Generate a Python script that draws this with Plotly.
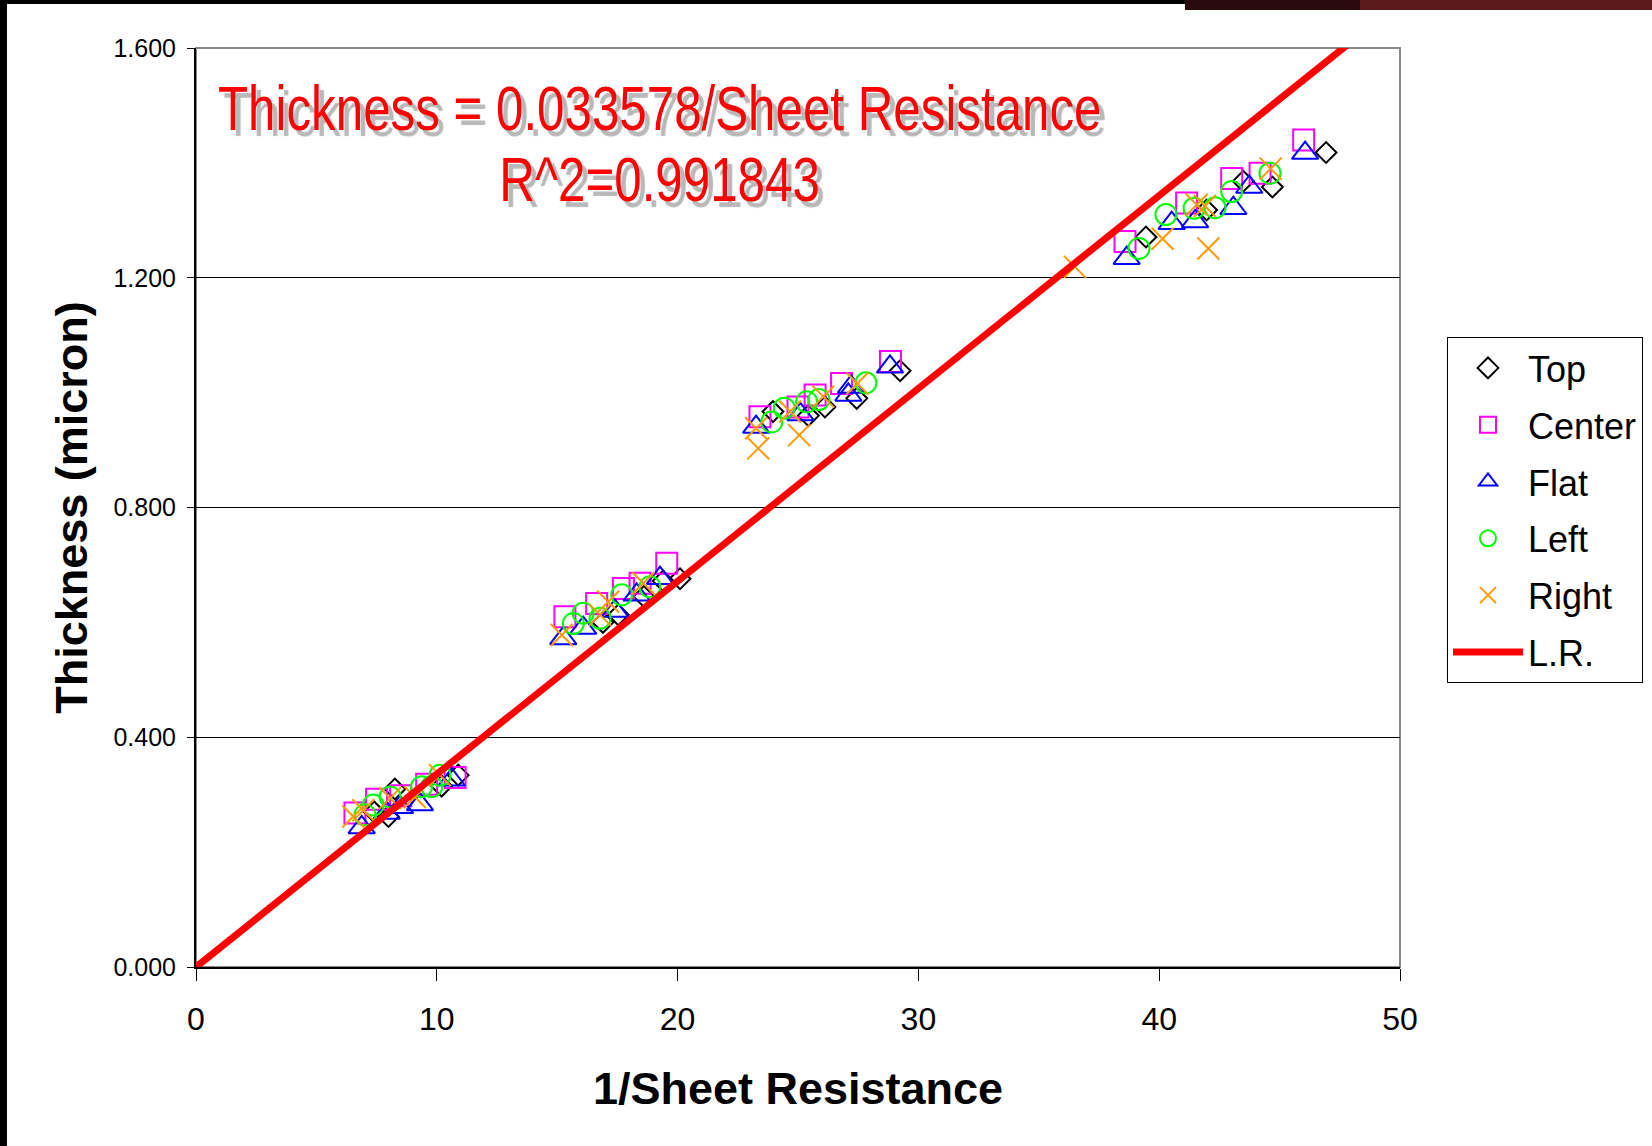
import plotly.graph_objects as go

# ---- data ----
top_x = [7.40, 7.99, 8.26, 10.20, 10.89, 16.90, 17.54, 18.60, 19.40, 20.10,
         23.96, 25.43, 26.12, 27.44, 29.24, 39.45, 41.97, 43.49, 44.70, 46.93]
top_y = [0.270, 0.262, 0.310, 0.315, 0.334, 0.600, 0.613, 0.645, 0.672, 0.676,
         0.967, 0.960, 0.975, 0.990, 1.038, 1.271, 1.318, 1.368, 1.358, 1.418]

center_x = [6.60, 7.50, 8.50, 9.58, 10.76, 15.32, 16.64, 17.75, 18.44, 19.55,
            23.42, 25.00, 25.71, 26.81, 28.84, 38.58, 41.14, 43.01, 44.19, 46.00]
center_y = [0.268, 0.292, 0.298, 0.318, 0.330, 0.610, 0.633, 0.659, 0.668, 0.703,
            0.958, 0.975, 0.996, 1.016, 1.054, 1.263, 1.330, 1.373, 1.382, 1.440]

flat_x = [6.88, 7.92, 8.47, 9.30, 10.62, 15.25, 16.08, 17.40, 18.30, 19.27,
          23.26, 25.10, 27.09, 27.20, 28.82, 38.65, 40.52, 41.49, 43.08, 43.74, 46.06]
flat_y = [0.243, 0.268, 0.278, 0.283, 0.326, 0.572, 0.590, 0.620, 0.648, 0.677,
          0.940, 0.962, 0.996, 1.010, 1.045, 1.234, 1.295, 1.298, 1.321, 1.358, 1.417]

left_x = [7.02, 7.36, 8.06, 9.37, 9.79, 10.13, 15.67, 16.08, 16.78, 17.68, 18.85,
          23.91, 24.43, 25.36, 25.87, 27.82, 39.16, 40.28, 41.45, 42.32, 43.01, 44.60]
left_y = [0.265, 0.282, 0.296, 0.314, 0.314, 0.334, 0.598, 0.616, 0.607, 0.648, 0.662,
          0.949, 0.973, 0.984, 0.988, 1.017, 1.251, 1.310, 1.321, 1.322, 1.350, 1.382]

right_x = [6.53, 6.95, 8.06, 9.09, 10.13, 15.19, 16.78, 17.12, 18.58,
           23.26, 23.35, 24.67, 25.05, 26.05, 27.46, 36.50, 40.14, 41.56, 41.90, 42.04, 44.63]
right_y = [0.262, 0.273, 0.294, 0.296, 0.334, 0.578, 0.613, 0.636, 0.668,
           0.938, 0.903, 0.967, 0.926, 0.993, 1.016, 1.219, 1.268, 1.327, 1.325, 1.251, 1.390]

lr_slope = 0.033578
lr_r2 = 0.991843
lr_x = [0, 50]
lr_y = [lr_slope * v for v in lr_x]

x_ticks = [0, 10, 20, 30, 40, 50]
y_ticks = [0.0, 0.4, 0.8, 1.2, 1.6]

# ---- layout geometry (pixels) ----
W, H = 1652, 1146
L, R, T, B = 196, 1400, 48, 967
pw, ph = R - L, B - T


def px(x):
    return (x - L) / pw


def py(y):
    return (B - y) / ph


FONT = "Liberation Sans, Arial, sans-serif"

fig = go.Figure()

series = [
    ("Top", top_x, top_y, "diamond-open", "#000000", 16),
    ("Center", center_x, center_y, "square-open", "#FF00FF", 21),
    ("Flat", flat_x, flat_y, "triangle-up-open", "#0000FF", 23),
    ("Left", left_x, left_y, "circle-open", "#00FF00", 21),
    ("Right", right_x, right_y, "x-thin-open", "#FF9900", 22),
]
for name, xs, ys, sym, col, sz in series:
    fig.add_trace(go.Scatter(
        x=xs, y=ys, mode="markers", name=name, legendgroup=name,
        marker=dict(symbol=sym, size=sz, color=col,
                    line=dict(color=col, width=2)),
    ))

fig.add_trace(go.Scatter(
    x=lr_x, y=lr_y, mode="lines", name="L.R.", legendgroup="L.R.",
    line=dict(color="#FF0000", width=7),
))

ann_font = dict(family=FONT, size=62, color="#FF0000",
                shadow="6px 5px 1px #b8b8b8")
fig.add_annotation(
    text=f"Thickness = {lr_slope:.6f}/Sheet Resistance",
    xref="paper", yref="paper", x=px(660), y=py(108),
    xanchor="center", yanchor="middle", showarrow=False, font=ann_font,
)
fig.add_annotation(
    text=f"R^2={lr_r2:.6f}",
    xref="paper", yref="paper", x=px(659), y=py(179),
    xanchor="center", yanchor="middle", showarrow=False, font=ann_font,
)

shapes = [
    # plot frame (grey, Excel style)
    dict(type="rect", xref="paper", yref="paper", x0=0, x1=1, y0=0, y1=1,
         line=dict(color="#888888", width=2), layer="below"),
    # black border on the left edge of the picture
    dict(type="rect", xref="paper", yref="paper", x0=px(0), x1=px(7),
         y0=py(H), y1=py(0), fillcolor="#000000", line=dict(width=0)),
    # black strip on the top edge
    dict(type="rect", xref="paper", yref="paper", x0=px(0), x1=px(W),
         y0=py(4), y1=py(0), fillcolor="#000000", line=dict(width=0)),
    dict(type="rect", xref="paper", yref="paper", x0=px(1185), x1=px(W),
         y0=py(10), y1=py(0), fillcolor="#2a0a0c", line=dict(width=0)),
    dict(type="rect", xref="paper", yref="paper", x0=px(1360), x1=px(W),
         y0=py(10), y1=py(0), fillcolor="#5a1a1e", line=dict(width=0)),
]
fig.update_layout(shapes=shapes)

fig.update_layout(
    width=W, height=H,
    margin=dict(l=L, r=W - R, t=T, b=H - B, autoexpand=False),
    paper_bgcolor="#FFFFFF", plot_bgcolor="#FFFFFF",
    font=dict(family=FONT, color="#000000"),
    showlegend=True,
    legend=dict(
        x=px(1447), y=py(337), xanchor="left", yanchor="top",
        bgcolor="#FFFFFF", bordercolor="#000000", borderwidth=1,
        font=dict(family=FONT, size=36, color="#000000"),
        itemwidth=70, traceorder="grouped", tracegroupgap=7,
    ),
    xaxis=dict(
        range=[0, 50], tickvals=x_ticks, ticktext=[str(v) for v in x_ticks],
        showgrid=False, zeroline=False,
        showline=True, linecolor="#000000", linewidth=2,
        ticks="outside", ticklen=12, tickwidth=1, tickcolor="#000000",
        tickfont=dict(family=FONT, size=32, color="#000000"),
        ticklabelstandoff=11,
        title=dict(text="<b>1/Sheet Resistance</b>", standoff=36,
                   font=dict(family=FONT, size=45, color="#000000")),
        automargin=False,
    ),
    yaxis=dict(
        range=[0, 1.6], tickvals=y_ticks, ticktext=[f"{v:.3f}" for v in y_ticks],
        showgrid=True, gridcolor="#000000", gridwidth=1, zeroline=False,
        showline=True, linecolor="#000000", linewidth=2,
        ticks="outside", ticklen=7, tickwidth=1, tickcolor="#000000",
        tickfont=dict(family=FONT, size=25, color="#000000"),
        ticklabelstandoff=6,
        title=dict(text="<b>Thickness (micron)</b>", standoff=12,
                   font=dict(family=FONT, size=45, color="#000000")),
        automargin=False,
    ),
)

# remove the page margin and give the fit equation its narrow (condensed) look
post = """
document.body.style.margin = '0';
var gd = document.getElementById('{plot_id}');
gd.querySelectorAll('.annotation-text').forEach(function (t) {
  var x = parseFloat(t.getAttribute('x')) || 0;
  var prev = t.getAttribute('transform') || '';
  t.setAttribute('transform', prev + ' translate(' + x + ',0) scale(0.795,1) translate(' + (-x) + ',0)');
});
"""

fig.write_html("out.html", post_script=post, config={"displayModeBar": False})
